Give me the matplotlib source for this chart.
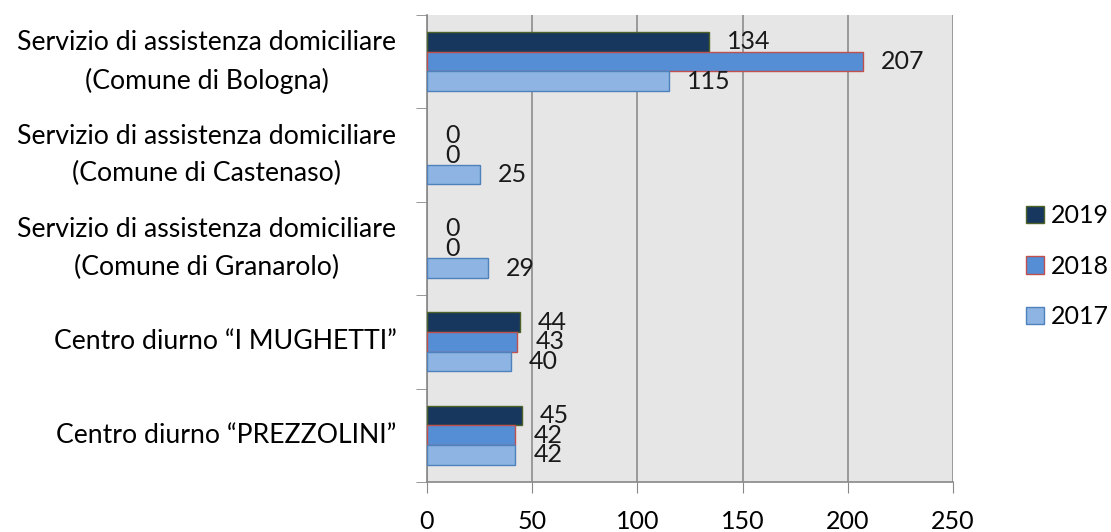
import matplotlib
matplotlib.use("Agg")
import matplotlib.pyplot as plt
import numpy as np
from matplotlib.patches import Patch
from matplotlib.transforms import offset_copy

categories = [
    "Servizio di assistenza domiciliare\n(Comune di Bologna)",
    "Servizio di assistenza domiciliare\n(Comune di Castenaso)",
    "Servizio di assistenza domiciliare\n(Comune di Granarolo)",
    "Centro diurno \u201cI MUGHETTI\u201d",
    "Centro diurno \u201cPREZZOLINI\u201d",
]
years = ["2019", "2018", "2017"]
values_2019 = [134, 0, 0, 44, 45]
values_2018 = [207, 0, 0, 43, 42]
values_2017 = [115, 25, 29, 40, 42]
xticks = [0, 50, 100, 150, 200, 250]

series = [values_2019, values_2018, values_2017]
faces = ["#17375e", "#558ed5", "#8db4e2"]
edges = ["#4f6228", "#c0504d", "#4f81bd"]

plt.rcParams["font.family"] = ["Lato", "DejaVu Sans"]
FS = 18
CFS = 19.2

fig = plt.figure(figsize=(11.11, 5.32), dpi=100)
ax = fig.add_axes([0.3843, 0.094, 0.4735, 0.878])
ax.set_facecolor("#e6e6e6")

n = len(categories)
y = np.arange(n)
h = 0.21
offsets = [-h, 0, h]
lbl_tr = offset_copy(ax.transData, fig=fig, x=13, y=0, units="points")
for vals, off, fc, ec in zip(series, offsets, faces, edges):
    ypos = y + off
    lws = [1.0 if v > 0 else 0.0 for v in vals]
    ax.barh(ypos, vals, height=h, color=fc, edgecolor=ec, linewidth=lws, zorder=3)
    for yy, v in zip(ypos, vals):
        ax.text(v, yy, str(v), va="center", ha="left", transform=lbl_tr,
                fontsize=FS, color="#1a1a1a", zorder=4)

ax.set_xlim(0, 250)
ax.set_ylim(n - 0.5, -0.5)
ax.set_xticks(xticks)
ax.set_xticklabels([str(t) for t in xticks], fontsize=FS)
ax.tick_params(axis="x", direction="out", length=8, color="#888888", pad=12)
ax.xaxis.grid(True, color="#8c8c8c", linewidth=1.2, zorder=0)
ax.set_axisbelow(True)

ax.set_yticks(y)
ax.set_yticklabels(categories, fontsize=CFS, linespacing=1.62)
ax.tick_params(axis="y", which="major", length=0, pad=22)
ax.set_yticks(np.arange(-0.5, n + 0.5, 1.0), minor=True)
ax.tick_params(axis="y", which="minor", length=8, color="#888888", direction="out")
for lab in ax.get_yticklabels():
    lab.set_multialignment("center")
    lab.set_verticalalignment("center")

for s in ["top", "right"]:
    ax.spines[s].set_visible(False)
for s in ["left", "bottom"]:
    ax.spines[s].set_color("#888888")
    ax.spines[s].set_linewidth(1.2)

handles = [Patch(facecolor=fc, edgecolor=ec, label=yr) for yr, fc, ec in zip(years, faces, edges)]
leg = fig.legend(handles=handles, loc="center left", bbox_to_anchor=(0.9235, 0.5),
                 frameon=False, fontsize=FS, handlelength=0.7, handleheight=0.7,
                 handletextpad=0.3, labelspacing=1.1, borderpad=0, borderaxespad=0)

fig.savefig("out.png", dpi=100)
